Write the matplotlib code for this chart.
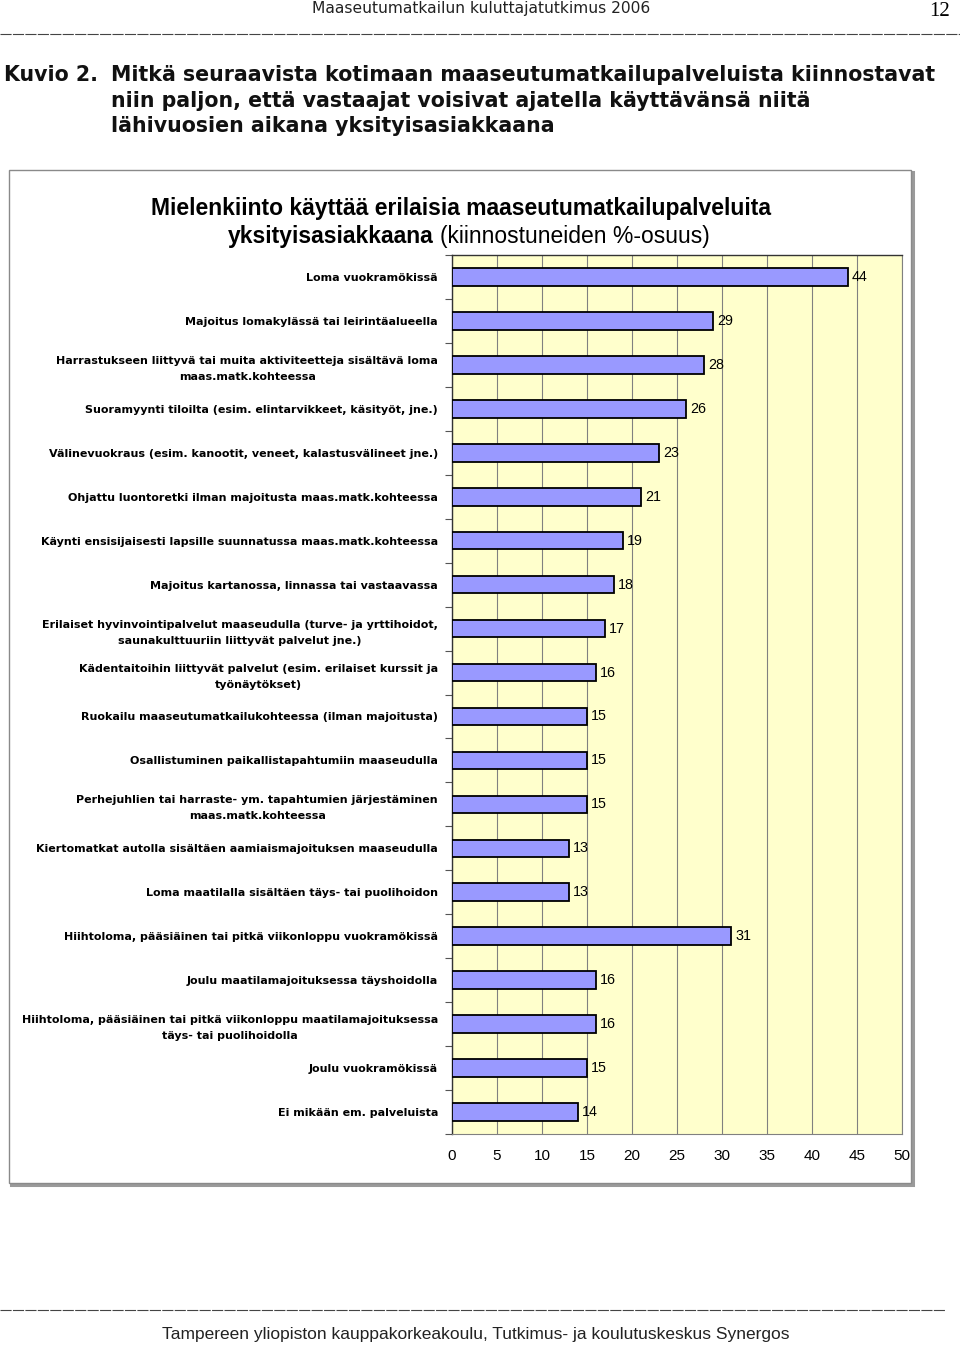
import matplotlib
matplotlib.use("Agg")
import matplotlib.pyplot as plt
import numpy as np
from matplotlib.patches import Rectangle
from matplotlib.lines import Line2D

categories = [
    "Loma vuokramökissä",
    "Majoitus lomakylässä tai leirintäalueella",
    "Harrastukseen liittyvä tai muita aktiviteetteja sisältävä loma\nmaas.matk.kohteessa",
    "Suoramyynti tiloilta (esim. elintarvikkeet, käsityöt, jne.)",
    "Välinevuokraus (esim. kanootit, veneet, kalastusvälineet jne.)",
    "Ohjattu luontoretki ilman majoitusta maas.matk.kohteessa",
    "Käynti ensisijaisesti lapsille suunnatussa maas.matk.kohteessa",
    "Majoitus kartanossa, linnassa tai vastaavassa",
    "Erilaiset hyvinvointipalvelut maaseudulla (turve- ja yrttihoidot,\nsaunakulttuuriin liittyvät palvelut jne.)",
    "Kädentaitoihin liittyvät palvelut (esim. erilaiset kurssit ja\ntyönäytökset)",
    "Ruokailu maaseutumatkailukohteessa (ilman majoitusta)",
    "Osallistuminen paikallistapahtumiin maaseudulla",
    "Perhejuhlien tai harraste- ym. tapahtumien järjestäminen\nmaas.matk.kohteessa",
    "Kiertomatkat autolla sisältäen aamiaismajoituksen maaseudulla",
    "Loma maatilalla sisältäen täys- tai puolihoidon",
    "Hiihtoloma, pääsiäinen tai pitkä viikonloppu vuokramökissä",
    "Joulu maatilamajoituksessa täyshoidolla",
    "Hiihtoloma, pääsiäinen tai pitkä viikonloppu maatilamajoituksessa\ntäys- tai puolihoidolla",
    "Joulu vuokramökissä",
    "Ei mikään em. palveluista",
]
values = [44, 29, 28, 26, 23, 21, 19, 18, 17, 16, 15, 15, 15, 13, 13, 31, 16, 16, 15, 14]
xticks = [0, 5, 10, 15, 20, 25, 30, 35, 40, 45, 50]

SANS = ["Liberation Sans", "DejaVu Sans"]
WIDE = ["DejaVu Sans"]
SERIF = ["Liberation Serif", "DejaVu Serif"]

W, H = 960, 1346
fig = plt.figure(figsize=(W / 100, H / 100), dpi=100)
fig.patch.set_facecolor("white")

def fx(px):
    return px / W

def fy(py):
    return 1 - py / H

# Page header
fig.text(fx(481), fy(9), "Maaseutumatkailun kuluttajatutkimus 2006", family=WIDE,
         fontsize=11.2, ha="center", va="center", color="#222222")
fig.text(fx(950), fy(12), "12", family=SERIF, fontsize=15, ha="right", va="center")
fig.add_artist(Line2D([0, 1], [fy(34), fy(34)], color="#444444", lw=0.8,
                      linestyle=(0, (10, 1.2)), transform=fig.transFigure))

# Figure caption
cap_kw = dict(family=WIDE, fontsize=14.8, fontweight="bold", va="center", color="#111111")
fig.text(fx(4), fy(75), "Kuvio 2.", **cap_kw)
fig.text(fx(111), fy(75), "Mitkä seuraavista kotimaan maaseutumatkailupalveluista kiinnostavat", **cap_kw)
fig.text(fx(111), fy(101), "niin paljon, että vastaajat voisivat ajatella käyttävänsä niitä", **cap_kw)
fig.text(fx(111), fy(126), "lähivuosien aikana yksityisasiakkaana", **cap_kw)

# Chart frame with shadow
fig.add_artist(Rectangle((fx(11), fy(1185)), fx(911) - fx(9), fy(170) - fy(1183),
                         transform=fig.transFigure, facecolor="none",
                         edgecolor="#9a9a9a", lw=2.2, zorder=0))
fig.add_artist(Rectangle((fx(9), fy(1183)), fx(911) - fx(9), fy(170) - fy(1183),
                         transform=fig.transFigure, facecolor="white",
                         edgecolor="#8a8a8a", lw=1.0, zorder=0))

# Chart title
fig.text(fx(461), fy(208), "Mielenkiinto käyttää erilaisia maaseutumatkailupalveluita",
         family=SANS, fontsize=16.5, fontweight="bold", ha="center", va="center")
fig.text(fx(434), fy(237), "yksityisasiakkaana", family=SANS, fontsize=16.5,
         fontweight="bold", ha="right", va="center")
fig.text(fx(440), fy(237), "(kiinnostuneiden %-osuus)", family=SANS, fontsize=16.5,
         ha="left", va="center")

# Axes
ax = fig.add_axes([fx(452), fy(1134), fx(902) - fx(452), fy(255) - fy(1134)])
ax.set_facecolor("#FFFFCC")
y = np.arange(len(categories))
ax.barh(y, values, height=0.4, color="#9999FF", edgecolor="black", linewidth=1.3, zorder=3)
for yi, v in zip(y, values):
    ax.text(v + 0.45, yi, f"{v}", family=SANS, fontsize=10.3, va="center", ha="left", zorder=4)

ax.set_xlim(0, 50)
ax.set_ylim(len(categories) - 0.5, -0.5)
ax.set_xticks(xticks)
ax.set_xticklabels([str(t) for t in xticks], family=SANS, fontsize=11)
ax.tick_params(axis="x", length=0, pad=11)
ax.xaxis.grid(True, color="#808080", lw=0.8, zorder=1)
ax.set_axisbelow(True)

ax.set_yticks(y)
ax.set_yticklabels(categories, family=WIDE, fontsize=8.0, fontweight="bold",
                   multialignment="center", linespacing=1.75)
ax.tick_params(axis="y", which="major", length=0, pad=10)
ax.set_yticks(np.arange(-0.5, len(categories), 1.0), minor=True)
ax.tick_params(axis="y", which="minor", length=5, width=0.8, color="#555555", direction="out")

for s in ["left", "top"]:
    ax.spines[s].set_color("#333333")
    ax.spines[s].set_linewidth(1.0)
ax.spines["right"].set_color("#808080")
ax.spines["right"].set_linewidth(0.8)
ax.spines["bottom"].set_color("#808080")
ax.spines["bottom"].set_linewidth(0.8)

# Footer
fig.add_artist(Line2D([0, fx(945)], [fy(1310), fy(1310)], color="#444444", lw=0.8,
                      linestyle=(0, (10, 1.2)), transform=fig.transFigure))
fig.text(fx(476), fy(1335),
         "Tampereen yliopiston kauppakorkeakoulu, Tutkimus- ja koulutuskeskus Synergos",
         family=SANS, fontsize=12.5, ha="center", va="center", color="#222222")

fig.savefig("out.png", dpi=100, facecolor="white")
